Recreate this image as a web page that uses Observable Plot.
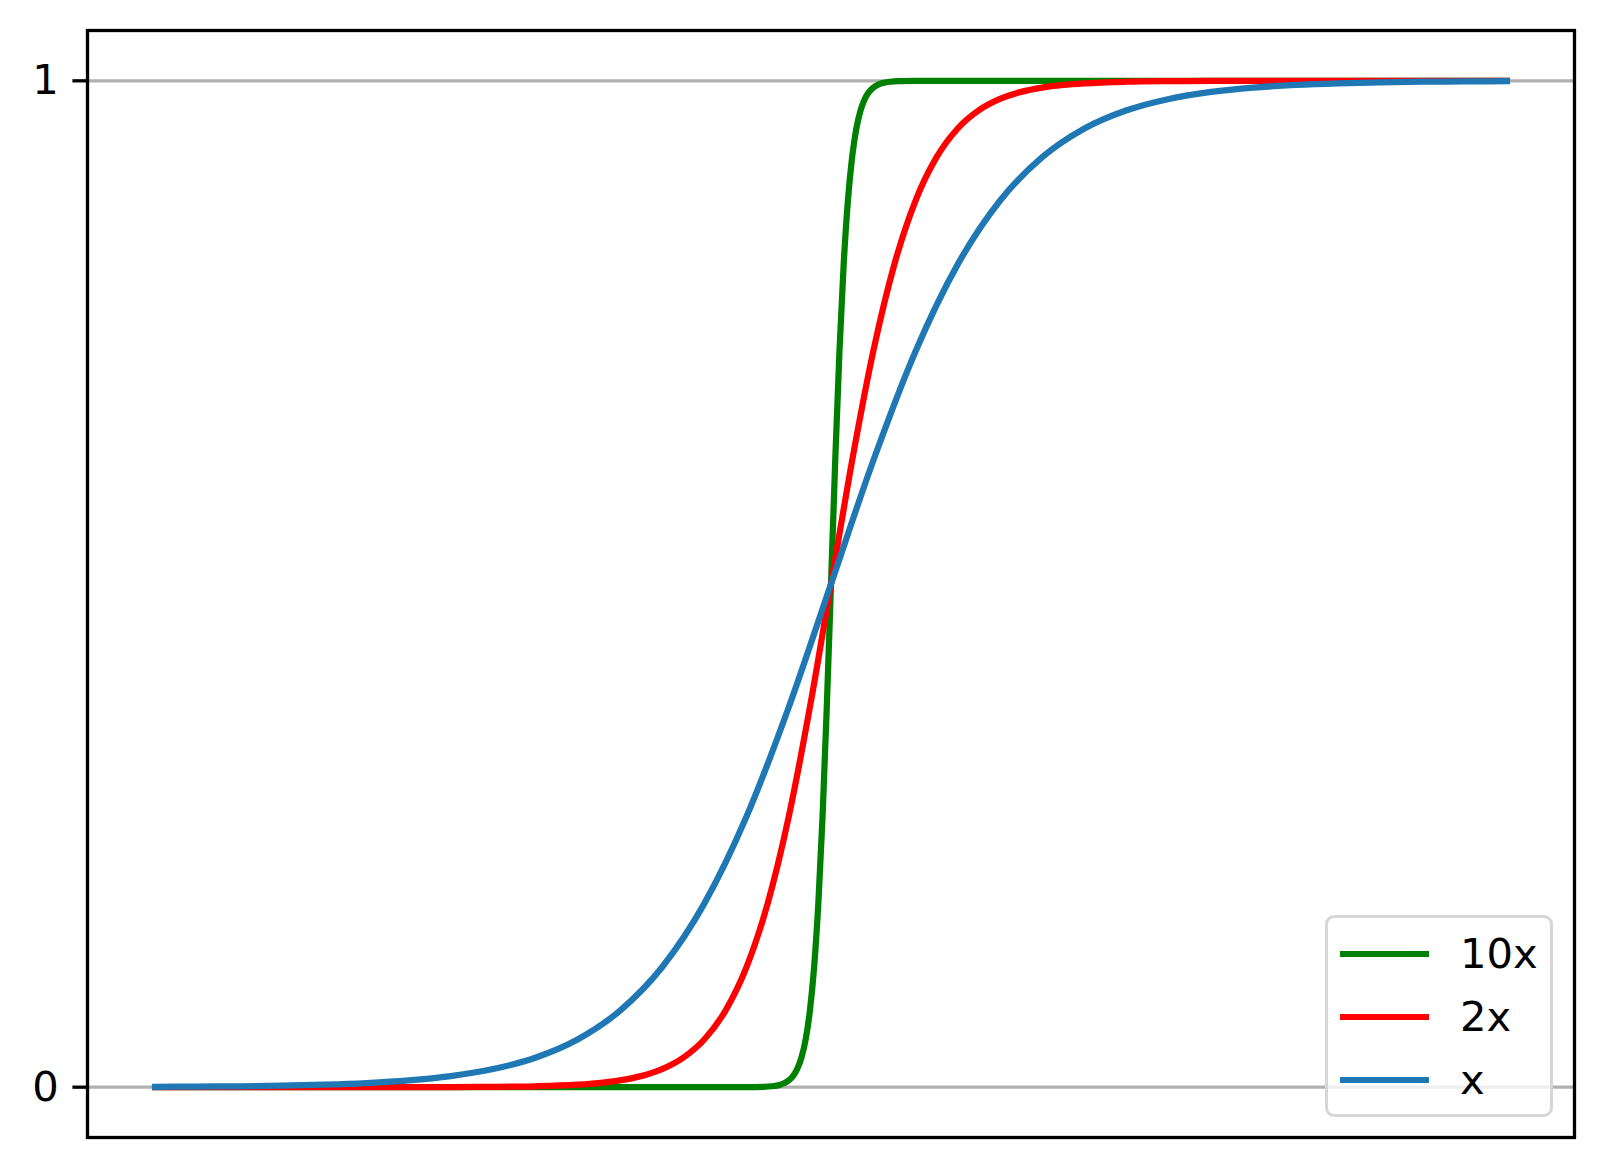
<!DOCTYPE html>
<html>
<head>
<meta charset="utf-8">
<script src="https://cdn.jsdelivr.net/npm/d3@7"></script>
<script src="https://cdn.jsdelivr.net/npm/@observablehq/plot@0.6"></script>
<style>
  html, body { margin: 0; padding: 0; background: #fff; }
  #wrap { position: relative; width: 1603px; height: 1168px; font-family: "DejaVu Sans", sans-serif; }
  #legend {
    position: absolute; left: 1325px; top: 915px; width: 222px; height: 196px;
    border: 3px solid #d6d6d6; border-radius: 9px; background: rgba(255,255,255,0.8);
    box-sizing: content-box;
  }
  .row { position: absolute; left: 12px; height: 42px; display: flex; align-items: center; }
  .swatch { width: 89px; height: 6px; margin-right: 31px; }
  .lab { font-size: 41.7px; color: #000; line-height: 42px; }
</style>
</head>
<body>
<div id="wrap"><div id="chart"></div>
  <div id="legend"></div>
</div>
<script>
// Series names and colours
const seriesNames = ["10x", "2x", "x"];
const seriesColors = ["#008000", "#ff0000", "#1f77b4"];

// y tick labels
const yTicks = [0, 1];

// Blue curve "x"
const xBlue = [-8, -7.5, -7, -6.5, -6, -5.5, -5, -4.5, -4, -3.5, -3, -2.5, -2, -1.5, -1, -0.5, 0,
               0.5, 1, 1.5, 2, 2.5, 3, 3.5, 4, 4.5, 5, 5.5, 6, 6.5, 7, 7.5, 8];
const yBlue = [0.0003, 0.0006, 0.0009, 0.0015, 0.0025, 0.0041, 0.0067, 0.0110, 0.0180, 0.0293, 0.0474, 0.0759, 0.1192, 0.1824, 0.2689, 0.3775, 0.5,
               0.6225, 0.7311, 0.8176, 0.8808, 0.9241, 0.9526, 0.9707, 0.9820, 0.9890, 0.9933, 0.9959, 0.9975, 0.9985, 0.9991, 0.9994, 0.9997];

// Red curve "2x"
const xRed = [-8, -6, -5, -4.5, -4, -3.5, -3, -2.75, -2.5, -2.25, -2, -1.75, -1.5, -1.25, -1, -0.75, -0.5, -0.25, 0,
              0.25, 0.5, 0.75, 1, 1.25, 1.5, 1.75, 2, 2.25, 2.5, 2.75, 3, 3.5, 4, 4.5, 5, 6, 8];
const yRed = [0.0000, 0.0000, 0.0000, 0.0001, 0.0003, 0.0009, 0.0025, 0.0041, 0.0067, 0.0110, 0.0180, 0.0293, 0.0474, 0.0759, 0.1192, 0.1824, 0.2689, 0.3775, 0.5,
              0.6225, 0.7311, 0.8176, 0.8808, 0.9241, 0.9526, 0.9707, 0.9820, 0.9890, 0.9933, 0.9959, 0.9975, 0.9991, 0.9997, 0.9999, 1.0000, 1.0000, 1.0000];

// Green curve "10x"
const xGreen = [-8, -2, -1, -0.8, -0.7, -0.6, -0.55, -0.5, -0.45, -0.4, -0.35, -0.3, -0.25, -0.2, -0.15, -0.1, -0.05, 0,
                0.05, 0.1, 0.15, 0.2, 0.25, 0.3, 0.35, 0.4, 0.45, 0.5, 0.55, 0.6, 0.7, 0.8, 1, 2, 8];
const yGreen = [0.0000, 0.0000, 0.0000, 0.0003, 0.0009, 0.0025, 0.0041, 0.0067, 0.0110, 0.0180, 0.0293, 0.0474, 0.0759, 0.1192, 0.1824, 0.2689, 0.3775, 0.5,
                0.6225, 0.7311, 0.8176, 0.8808, 0.9241, 0.9526, 0.9707, 0.9820, 0.9890, 0.9933, 0.9959, 0.9975, 0.9991, 0.9997, 1.0000, 1.0000, 1.0000];

const toRows = (xs, ys, s) => xs.map((x, i) => ({x, y: ys[i], s}));
const green = toRows(xGreen, yGreen, "10x");
const red = toRows(xRed, yRed, "2x");
const blue = toRows(xBlue, yBlue, "x");

const plot = Plot.plot({
  width: 1603,
  height: 1168,
  marginLeft: 87,
  marginRight: 29,
  marginTop: 30,
  marginBottom: 31,
  style: {fontFamily: "DejaVu Sans, sans-serif", background: "white"},
  x: {domain: [-8.8, 8.8], axis: null},
  y: {domain: [-0.05, 1.05], axis: null},
  marks: [
    Plot.ruleY(yTicks, {stroke: "#b0b0b0", strokeWidth: 3.3}),
    Plot.line(green, {x: "x", y: "y", stroke: seriesColors[0], strokeWidth: 6.25, curve: "monotone-x", strokeLinecap: "square"}),
    Plot.line(red, {x: "x", y: "y", stroke: seriesColors[1], strokeWidth: 6.25, curve: "monotone-x", strokeLinecap: "square"}),
    Plot.line(blue, {x: "x", y: "y", stroke: seriesColors[2], strokeWidth: 6.25, curve: "monotone-x", strokeLinecap: "square"}),
    Plot.axisY({ticks: yTicks, tickFormat: d => String(d), tickSize: 14.6, tickPadding: 14, strokeWidth: 3.3, fontSize: 41.7, color: "black", label: null}),
    Plot.frame({stroke: "black", strokeWidth: 3.3})
  ]
});
document.getElementById("chart").appendChild(plot);

const legend = document.getElementById("legend");
const rowTops = [15, 78, 141];
seriesNames.forEach((name, i) => {
  const row = document.createElement("div");
  row.className = "row";
  row.style.top = rowTops[i] + "px";
  const sw = document.createElement("div");
  sw.className = "swatch";
  sw.style.background = seriesColors[i];
  const lab = document.createElement("span");
  lab.className = "lab";
  lab.textContent = name;
  row.appendChild(sw);
  row.appendChild(lab);
  legend.appendChild(row);
});
</script>
</body>
</html>
